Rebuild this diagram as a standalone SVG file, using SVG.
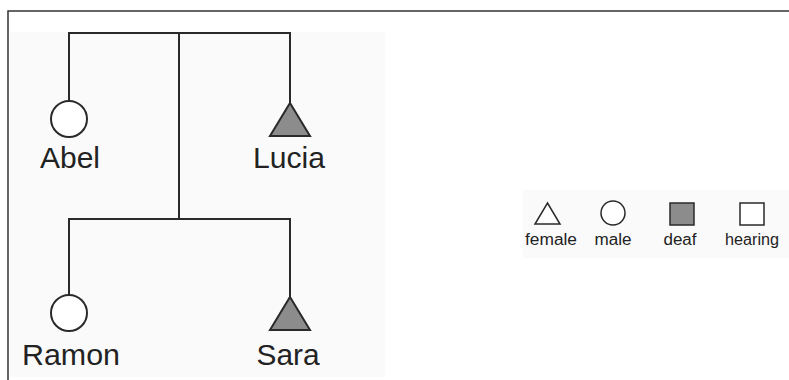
<svg xmlns="http://www.w3.org/2000/svg" width="789" height="380" viewBox="0 0 789 380">
<style>
.ln{stroke:#2a2a2a;stroke-width:2;fill:none}
.m{fill:#fff;stroke:#2a2a2a;stroke-width:2}
.d{fill:#8c8c8c;stroke:#2a2a2a;stroke-width:2;stroke-linejoin:miter}
.lbl{font-family:"Liberation Sans",Arial,sans-serif;font-size:30px;fill:#222;text-anchor:middle}
.lg{font-family:"Liberation Sans",Arial,sans-serif;font-size:16px;fill:#222;text-anchor:middle}
.lgs{stroke:#2a2a2a;stroke-width:1.5}
</style>
<rect width="789" height="380" fill="#fff"/>
<rect x="10" y="32" width="375" height="345" fill="#fafafa"/>
<rect x="523" y="190" width="266" height="68" fill="#fafafa"/>
<path d="M8 380 V11 H789" stroke="#333" stroke-width="1.5" fill="none"/>
<g id="connectors">
<path class="ln" d="M69 101 V33 H290 V103"/>
<path class="ln" d="M179 33 V219"/>
<path class="ln" d="M69 295 V219 H290 V297"/>
</g>
<g id="abel"><circle class="m" cx="69" cy="119" r="18"/><text class="lbl" x="70" y="168" textLength="60" lengthAdjust="spacingAndGlyphs">Abel</text></g>
<g id="lucia"><polygon class="d" points="290,103 310,136 270,136"/><text class="lbl" x="289" y="168" textLength="72" lengthAdjust="spacingAndGlyphs">Lucia</text></g>
<g id="ramon"><circle class="m" cx="69" cy="313" r="18"/><text class="lbl" x="71" y="365" textLength="98" lengthAdjust="spacingAndGlyphs">Ramon</text></g>
<g id="sara"><polygon class="d" points="290,297 310,330 270,330"/><text class="lbl" x="288" y="365" textLength="63" lengthAdjust="spacingAndGlyphs">Sara</text></g>
<g id="legend">
<polygon class="lgs" fill="#fff" points="547.5,203 560,224 535,224"/>
<text class="lg" x="551" y="245" textLength="52" lengthAdjust="spacingAndGlyphs">female</text>
<circle class="lgs" fill="#fff" cx="613" cy="213" r="12"/>
<text class="lg" x="613" y="245" textLength="37" lengthAdjust="spacingAndGlyphs">male</text>
<rect class="lgs" fill="#8c8c8c" x="670" y="203" width="24" height="22"/>
<text class="lg" x="680" y="245" textLength="33" lengthAdjust="spacingAndGlyphs">deaf</text>
<rect class="lgs" fill="#fff" x="740" y="203" width="24" height="22"/>
<text class="lg" x="752" y="245" textLength="54" lengthAdjust="spacingAndGlyphs">hearing</text>
</g>
</svg>
